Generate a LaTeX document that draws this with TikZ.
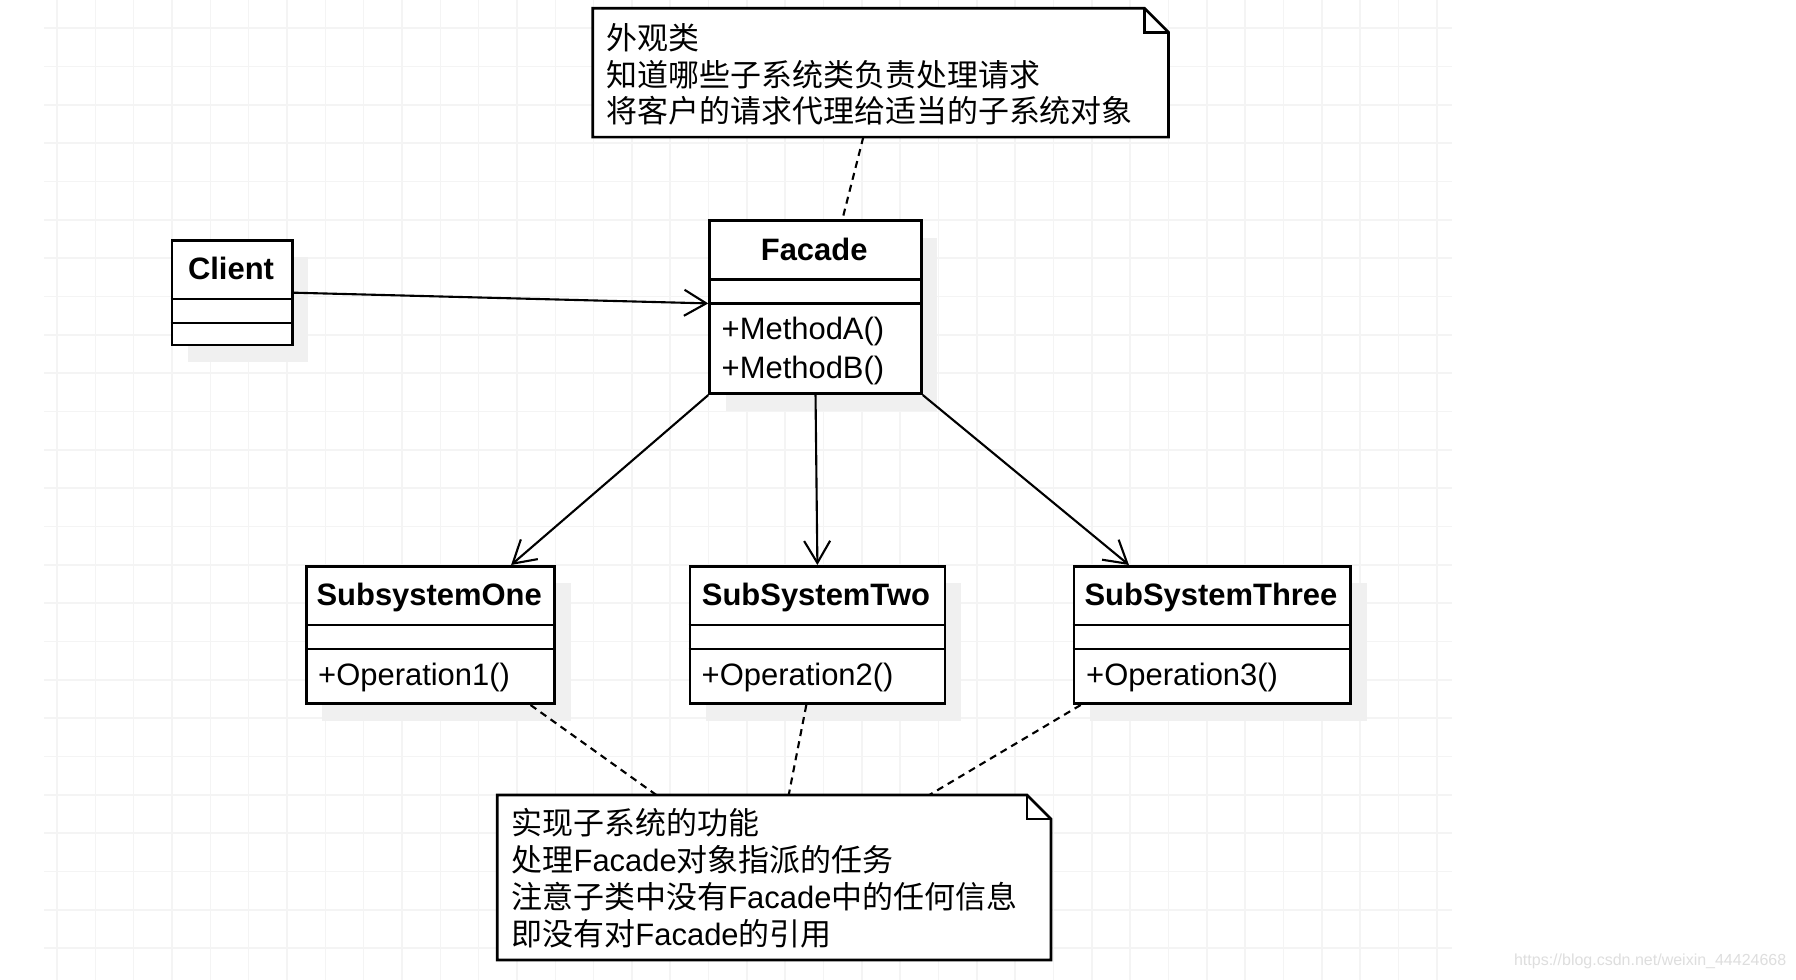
\documentclass[tikz,border=0pt]{standalone}
\usepackage{fontspec}
\setmainfont{Liberation Sans}
\newfontfamily\cjk{Noto Sans CJK SC}
\usepackage{tikz}
\usetikzlibrary{arrows.meta,calc,shadows}
\definecolor{gridgray}{HTML}{F4F4F4}
\definecolor{shadowgray}{HTML}{F0F0F0}

\begin{document}
\begin{tikzpicture}[x=0.01cm, y=-0.01cm,
        every node/.style={inner sep=0pt, font=\fontsize{8.8pt}{10.6pt}\selectfont},
        classbox/.style={draw, fill=white, line width=0.75pt, anchor=north west,
            drop shadow={shadow xshift=0.16cm, shadow yshift=-0.17cm, fill=shadowgray, opacity=1}},
        classname/.style={anchor=base, font=\bfseries\fontsize{8.8pt}{10.6pt}\selectfont},
        member/.style={anchor=base west},
        notebox/.style={anchor=north west},
        noteline/.style={draw, fill=white, line width=0.75pt},
        uses/.style={line width=0.6pt, -{Straight Barb[length=0.22cm, width=0.26cm, line width=0.6pt]}},
        anchorline/.style={line width=0.6pt, dash pattern=on 2pt off 1.5pt}]
        \useasboundingbox (0,0) rectangle (1796,980);
        \fill[white] (0,0) rectangle (1796,980);
        \foreach \i in {0,...,36}{\draw[gridgray, line width=0.45pt] (57+38.33*\i,0) -- (57+38.33*\i,980);}
        \foreach \j in {0,...,24}{\draw[gridgray, line width=0.45pt] (44,28.3+38.33*\j) -- (1452,28.3+38.33*\j);}
        \node[classbox, minimum width=1.203cm, minimum height=1.047cm] (client) at (170.7,239) {};
        \node[classbox, minimum width=2.117cm, minimum height=1.73cm] (facade) at (708.3,219.3) {};
        \node[classbox, minimum width=2.483cm, minimum height=1.373cm] (sub1) at (305,565) {};
        \node[classbox, minimum width=2.55cm, minimum height=1.373cm] (sub2) at (688.5,565) {};
        \node[classbox, minimum width=2.766cm, minimum height=1.373cm] (sub3) at (1072.7,565) {};
        \foreach \c in {client,facade,sub1,sub2,sub3}{
            \foreach \d in {60,84}{\draw[line width=0.75pt] ($(\c.north west)+(0,\d)$) -- ($(\c.north east)+(0,\d)$);}
        }
        \node[classname] (clientname) at (231,279.5) {Client};
        \node[classname] (facadename) at (814.2,260.7) {Facade};
        \node[member] (methoda) at (721,340) {+MethodA()};
        \node[member] (methodb) at (721,378.3) {+MethodB()};
        \node[classname] (sub1name) at (429.2,605.7) {SubsystemOne};
        \node[member] (op1) at (317.5,685.7) {+Operation1()};
        \node[classname] (sub2name) at (816,605.7) {SubSystemTwo};
        \node[member] (op2) at (701,685.7) {+Operation2()};
        \node[classname] (sub3name) at (1211,605.7) {SubSystemThree};
        \node[member] (op3) at (1085.5,685.7) {+Operation3()};
        \node[notebox, minimum width=5.74cm, minimum height=1.274cm] (facadenote) at (592.7,8.3) {};
        \draw[noteline] (facadenote.north west) -- ($(facadenote.north east)+(-24,0)$) -- ($(facadenote.north east)+(0,24)$) -- (facadenote.south east) -- (facadenote.south west) -- cycle;
        \draw[line width=0.75pt] ($(facadenote.north east)+(-24,0)$) |- ($(facadenote.north east)+(0,24)$);
        \foreach \t [count=\k] in {{\cjk 外观类},{\cjk 知道哪些子系统类负责处理请求},{\cjk 将客户的请求代理给适当的子系统对象}}{
            \node[member] (facadeline\k) at (606,50+36.3*\k-36.3) {\t};
        }
        \node[notebox, minimum width=5.52cm, minimum height=1.635cm] (subnote) at (497.3,795) {};
        \draw[noteline] (subnote.north west) -- ($(subnote.north east)+(-24,0)$) -- ($(subnote.north east)+(0,24)$) -- (subnote.south east) -- (subnote.south west) -- cycle;
        \draw[line width=0.75pt] ($(subnote.north east)+(-24,0)$) |- ($(subnote.north east)+(0,24)$);
        \foreach \t [count=\k] in {{\cjk 实现子系统的功能},{{\cjk 处理}Facade{\cjk 对象指派的任务}},{{\cjk 注意子类中没有}Facade{\cjk 中的任何信息}},{{\cjk 即没有对}Facade{\cjk 的引用}}}{
            \node[member] (subline\k) at (511,835+36.7*\k-36.7) {\t};
        }
        \draw[uses] (client.east) -- (facade.178);
        \draw[uses] (facade.south west) -- (sub1.41);
        \draw[uses] (facade.south) -- (sub2.north);
        \draw[uses] (facade.south east) -- (sub3.140);
        \draw[anchorline] (facadenote.255) -- (facade.73);
        \draw[anchorline] (sub1.-35) -- (subnote.145);
        \draw[anchorline] (sub2.261) -- (subnote.80);
        \draw[anchorline] (sub3.208) -- (subnote.28.5);
        \node[anchor=base east, text=black!13, font=\fontsize{4.55pt}{5pt}\selectfont] (mark) at (1787,966) {https://blog.csdn.net/weixin\_44424668};
    \end{tikzpicture}
\end{document}
